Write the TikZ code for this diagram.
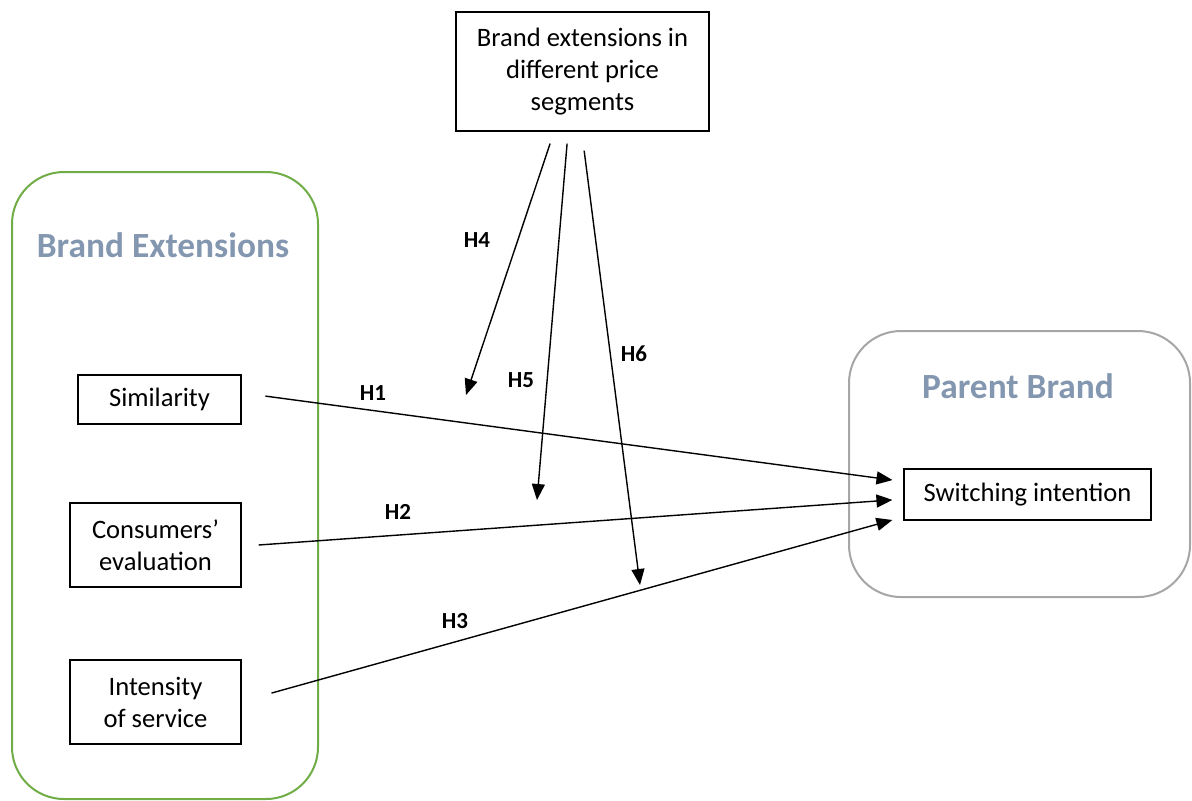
\documentclass[tikz,border=0pt]{standalone}
\usepackage{fontspec}
\setmainfont{Carlito}
\usetikzlibrary{arrows.meta,positioning}
\definecolor{titleblue}{HTML}{8497B0}
\definecolor{extgreen}{HTML}{70AD47}
\definecolor{parentgrey}{HTML}{A6A6A6}
\tikzstyle{var}=[shape=rectangle, draw, line width=0.6pt, align=center, inner sep=0pt, font=\fontsize{13.3}{16}\selectfont]
\tikzstyle{hyp}=[font=\bfseries\fontsize{11.5}{13}\selectfont]
\tikzstyle{grp}=[draw, line width=1pt, rounded corners=26pt]
\tikzstyle{ttl}=[text=titleblue, font=\bfseries\fontsize{17.7}{20}\selectfont]
\tikzstyle{hto}=[line width=0.7pt, -{Triangle[length=8pt,width=6.5pt]}]

\begin{document}
\begin{tikzpicture}[x=0.5pt,y=-0.5pt]
\useasboundingbox (0,0) rectangle (1192,800);
\draw[grp,extgreen] (12,172) rectangle (318,799);
\draw[grp,parentgrey] (849,331) rectangle (1190,597);

\node (ext) [ttl] at (163,245) {Brand Extensions};
\node (par) [ttl] at (1018,386) {Parent Brand};

\node (sim) [var, minimum width=81.5pt, minimum height=24.5pt] at (159.5,399.5) {Similarity};
\node (eval) [var, minimum width=85.5pt, minimum height=42pt] at (155.5,545) {Consumers'\\evaluation};
\node (int) [var, minimum width=85.5pt, minimum height=42pt] at (155.5,702) {Intensity\\of service};
\node (seg) [var, minimum width=126.5pt, minimum height=59.5pt] at (582.5,71.5) {Brand extensions in\\different price\\segments};
\node (swi) [var, minimum width=123.5pt, minimum height=25.5pt] at (1027.5,494.5) {Switching intention};

% free ends of the moderating arrows
\coordinate (h4end) at (466,395);
\coordinate (h5end) at (537,500);
\coordinate (h6end) at (640,585);

\draw[hto, shorten <=12pt, shorten >=5.5pt] ([yshift=3.3pt]sim.east) -- ([yshift=6.5pt]swi.west);
\draw[hto, shorten <=8.5pt, shorten >=5.5pt] ([yshift=-0.6pt]eval.east) -- ([yshift=-2.3pt]swi.west);
\draw[hto, shorten <=15.5pt, shorten >=5.7pt] ([yshift=0.3pt]int.east) -- ([yshift=-11.2pt]swi.west);

\draw[hto, shorten <=6.3pt] ([xshift=-14.2pt]seg.south) -- (h4end);
\draw[hto, shorten <=6pt] ([xshift=-7.2pt]seg.south) -- (h5end);
\draw[hto, shorten <=9.6pt] ([xshift=-0.4pt]seg.south) -- (h6end);

\node (h1) [hyp] at (373,393) {H1};
\node (h2) [hyp] at (398,512) {H2};
\node (h3) [hyp] at (455,621) {H3};
\node (h4) [hyp] at (477,240) {H4};
\node (h5) [hyp] at (521,380) {H5};
\node (h6) [hyp] at (634,354) {H6};
\end{tikzpicture}
\end{document}
